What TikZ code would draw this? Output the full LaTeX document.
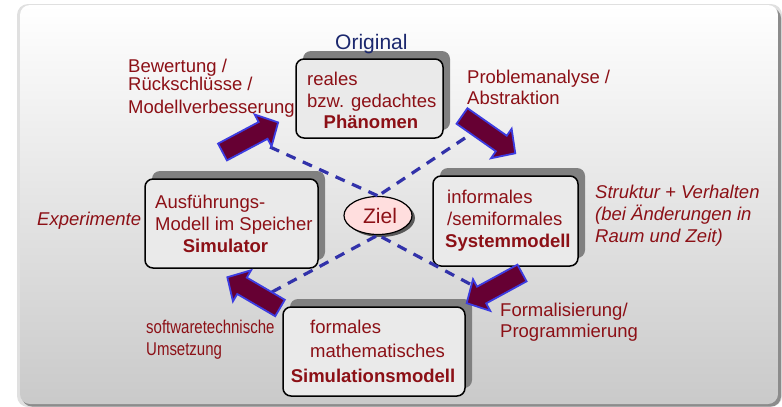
\documentclass[tikz,border=0pt]{standalone}
\usepackage{fontspec}
\setmainfont{Liberation Sans}
\usetikzlibrary{shadows,shapes.geometric}
\definecolor{txtred}{RGB}{140,16,22}
\definecolor{navy}{RGB}{28,40,110}
\definecolor{arrowfill}{RGB}{102,0,51}
\definecolor{arrowline}{RGB}{60,60,225}
\definecolor{dashblue}{RGB}{50,50,170}
\definecolor{boxfill}{RGB}{234,234,234}
\definecolor{zielfill}{RGB}{255,222,222}
\definecolor{shadowgray}{RGB}{128,128,128}

\tikzset{
  pics/blockarrow/.style={code={
    \path[draw=arrowline, line width=1.8pt, fill=arrowfill, line join=miter]
      (0,-9.5) -- (#1-17,-9.5) -- (#1-17,-18) -- (#1,0) -- (#1-17,18)
      -- (#1-17,9.5) -- (0,9.5) -- cycle;
  }},
}

\begin{document}
\begin{tikzpicture}[x=1pt,y=-1pt,
  lbl/.style={inner sep=0pt, anchor=base west, align=left, text=txtred,
    font=\fontsize{18.5}{#1}\selectfont},
  lbl/.default=22,
  itlbl/.style={lbl=#1, font=\fontsize{18.5}{#1}\selectfont\itshape},
  itlbl/.default=22,
  boldlbl/.style={inner sep=0pt, anchor=base, text=txtred,
    font=\fontsize{18.5}{21}\selectfont\bfseries},
  modelbox/.style={draw=black, line width=1.5pt, rounded corners=8pt,
    fill=boxfill, inner sep=0pt,
    general shadow={shadow xshift=7pt, shadow yshift=8pt, fill=shadowgray}},
  goal/.style={ellipse, draw=black, line width=1.2pt, fill=zielfill,
    inner sep=0pt, minimum width=68pt, minimum height=38pt, text=txtred,
    font=\fontsize{21}{24}\selectfont,
    general shadow={shadow xshift=3pt, shadow yshift=-2.5pt, fill=black!65}},
  dashlink/.style={draw=dashblue, line width=3.2pt, dash pattern=on 10pt off 8pt},
]
\useasboundingbox (0,0) rectangle (782,407);

% background panel with its shadow
\fill[black!12, rounded corners=11pt] (17,4) rectangle (782,407);
\fill[black!45, rounded corners=10pt] (22,8) rectangle (781,406.5);
\shade[rounded corners=10pt, top color=white, middle color=black!5,
  bottom color=black!21] (20,5) rectangle (778,404);

% the four model boxes
\node[modelbox, minimum width=147pt, minimum height=79pt] (phen) at (369.5,98.5) {};
\node[modelbox, minimum width=173pt, minimum height=89pt] (simu) at (231.5,223.5) {};
\node[modelbox, minimum width=145pt, minimum height=90pt] (sysm) at (505.5,221) {};
\node[modelbox, minimum width=182pt, minimum height=89pt] (simm) at (374,351.5) {};

% goal in the middle
\node[goal] (ziel) at (378,215.5) {\hspace*{4pt}Ziel};

% dashed links to the goal
\coordinate (dul) at (270,147);
\coordinate (dur) at (465,138);
\coordinate (dll) at (272,292);
\coordinate (dlr) at (470,284);
\draw[dashlink] (dul) -- (ziel.north);
\draw[dashlink] (dur) -- (ziel.north);
\draw[dashlink] (dll) -- (ziel.south);
\draw[dashlink] (dlr) -- (ziel.south);

% block arrows of the cycle
\pic (aone) [rotate=28] at (222.5,152) {blockarrow=63};
\pic (atwo) [rotate=-35] at (462,116) {blockarrow=65};
\pic (athree) [rotate=208.6] at (522,273) {blockarrow=63};
\pic (afour) [rotate=149.7] at (280,308) {blockarrow=61};

% texts inside the boxes (multi-line nodes sit on their last baseline)
\node[lbl] (phent) at (307,107) {reales\\bzw. gedachtes};
\node[boldlbl] (phenb) at (371,128) {Phänomen};
\node[lbl] (simut) at (155,230) {Ausführungs-\\Modell im Speicher};
\node[boldlbl] (simub) at (225.5,252) {Simulator};
\node[lbl] (sysmt) at (447,225) {informales\\/semiformales};
\node[boldlbl, anchor=base west] (sysmb) at (445,247) {Systemmodell};
\node[lbl=24] (simmt) at (310,357) {formales\\mathematisches};
\node[boldlbl] (simmb) at (373,382) {Simulationsmodell};

% labels around the cycle
\node[inner sep=0pt, anchor=base west, text=navy, font=\fontsize{21}{24}\selectfont]
  (orig) at (335,49) {Original};
\node[lbl=18.3] (bew) at (128,113) {Bewertung /\\Rückschlüsse /\\[4.4pt]Modellverbesserung};
\node[lbl=21] (prob) at (467,104) {Problemanalyse /\\Abstraktion};
\node[itlbl] (exper) at (37,225) {Experimente};
\node[itlbl] (struk) at (595,242)
  {Struktur + Verhalten\\(bei Änderungen in\\Raum und Zeit)};
\node[lbl=21] (form) at (500,337) {Formalisierung/\\Programmierung};
\node[lbl] (soft) at (146,355)
  {\scalebox{0.81}[1]{softwaretechnische}\\\scalebox{0.81}[1]{Umsetzung}};
\end{tikzpicture}
\end{document}
